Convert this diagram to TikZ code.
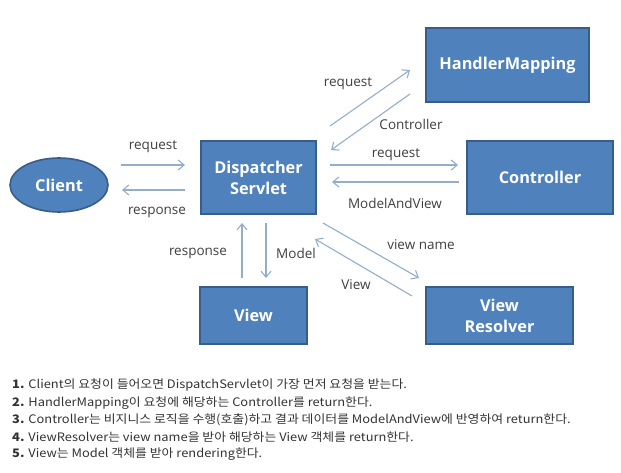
\documentclass[tikz,border=0pt]{standalone}
\usepackage{fontspec}
\setmainfont{Open Sans}
\newfontfamily\kr[FakeStretch=1.1]{Noto Sans CJK KR}
\usetikzlibrary{shapes.geometric,arrows.meta}
\definecolor{boxfill}{HTML}{4F81BD}
\definecolor{boxline}{HTML}{385D8A}
\definecolor{arr}{HTML}{93AECD}
\definecolor{lbl}{HTML}{404040}
\definecolor{txt}{HTML}{333333}
\tikzset{
  comp/.style={draw=boxline,line width=1.6pt,fill=boxfill,text=white,font=\bfseries\fontsize{16.3}{21}\selectfont,align=center,inner sep=0pt},
  conn/.style={draw=arr,line width=1.1pt,-{Straight Barb[length=6pt,width=10pt,line width=1.1pt]}},
  lab/.style={text=lbl,font=\fontsize{13.5}{15}\selectfont,inner sep=0pt},
  note/.style={text=txt,font=\kr\fontsize{11.7}{13}\selectfont,anchor=west,inner sep=0pt}
}
\begin{document}
\begin{tikzpicture}[x=1pt,y=-1pt]
\path[use as bounding box,fill=white] (0,0) rectangle (621,473);
% components
\node[comp,ellipse,minimum width=98pt,minimum height=54pt] (client) at (59,185) {Client};
\node[comp,rectangle,minimum width=115pt,minimum height=73pt] (ds) at (258.5,177.5) {Dispatcher\\Servlet};
\node[comp,rectangle,minimum width=163pt,minimum height=74pt] (hm) at (507.5,65) {HandlerMapping};
\node[comp,rectangle,minimum width=146pt,minimum height=73pt] (ctrl) at (540,177.5) {Controller};
\node[comp,rectangle,minimum width=107pt,minimum height=57pt] (view) at (253.5,315.5) {View};
\node[comp,rectangle,minimum width=147pt,minimum height=57pt] (vr) at (499.5,315.5) {View\\Resolver};
% connector end points
\coordinate (c1a) at (121,165); \coordinate (c1b) at (185,165);
\coordinate (c2a) at (185,190); \coordinate (c2b) at (122,190);
\coordinate (h1a) at (330,126); \coordinate (h1b) at (410,70);
\coordinate (h2a) at (410,94);  \coordinate (h2b) at (331,150);
\coordinate (k1a) at (330,165); \coordinate (k1b) at (458,165);
\coordinate (k2a) at (459,182); \coordinate (k2b) at (332,182);
\coordinate (v1a) at (242,278); \coordinate (v1b) at (242,223);
\coordinate (v2a) at (266,223); \coordinate (v2b) at (266,278);
\coordinate (r1a) at (323,223); \coordinate (r1b) at (419,278);
\coordinate (r2a) at (412,296); \coordinate (r2b) at (315,239);
% connectors
\draw[conn] (c1a) -- (c1b);
\draw[conn] (c2a) -- (c2b);
\draw[conn] (h1a) -- (h1b);
\draw[conn] (h2a) -- (h2b);
\draw[conn] (k1a) -- (k1b);
\draw[conn] (k2a) -- (k2b);
\draw[conn] (v1a) -- (v1b);
\draw[conn] (v2a) -- (v2b);
\draw[conn] (r1a) -- (r1b);
\draw[conn] (r2a) -- (r2b);
% labels
\node[lab] (l1) at (153,147) {request};
\node[lab] (l2) at (157,212) {response};
\node[lab] (l3) at (348,84) {request};
\node[lab] (l4) at (411,124) {Controller};
\node[lab] (l5) at (396,155) {request};
\node[lab] (l6) at (395,203) {ModelAndView};
\node[lab] (l7) at (198,253) {response};
\node[lab] (l8) at (296,253) {Model};
\node[lab] (l9) at (421,245) {view name};
\node[lab] (l10) at (356,285) {View};
% notes
\node[note] (n1) at (12,385) {\textbf{1.} Client의 요청이 들어오면 DispatchServlet이 가장 먼저 요청을 받는다.};
\node[note] (n2) at (12,403) {\textbf{2.} HandlerMapping이 요청에 해당하는 Controller를 return한다.};
\node[note] (n3) at (12,420) {\textbf{3.} Controller는 비지니스 로직을 수행(호출)하고 결과 데이터를 ModelAndView에 반영하여 return한다.};
\node[note] (n4) at (12,437) {\textbf{4.} ViewResolver는 view name을 받아 해당하는 View 객체를 return한다.};
\node[note] (n5) at (12,454) {\textbf{5.} View는 Model 객체를 받아 rendering한다.};
\end{tikzpicture}
\end{document}
